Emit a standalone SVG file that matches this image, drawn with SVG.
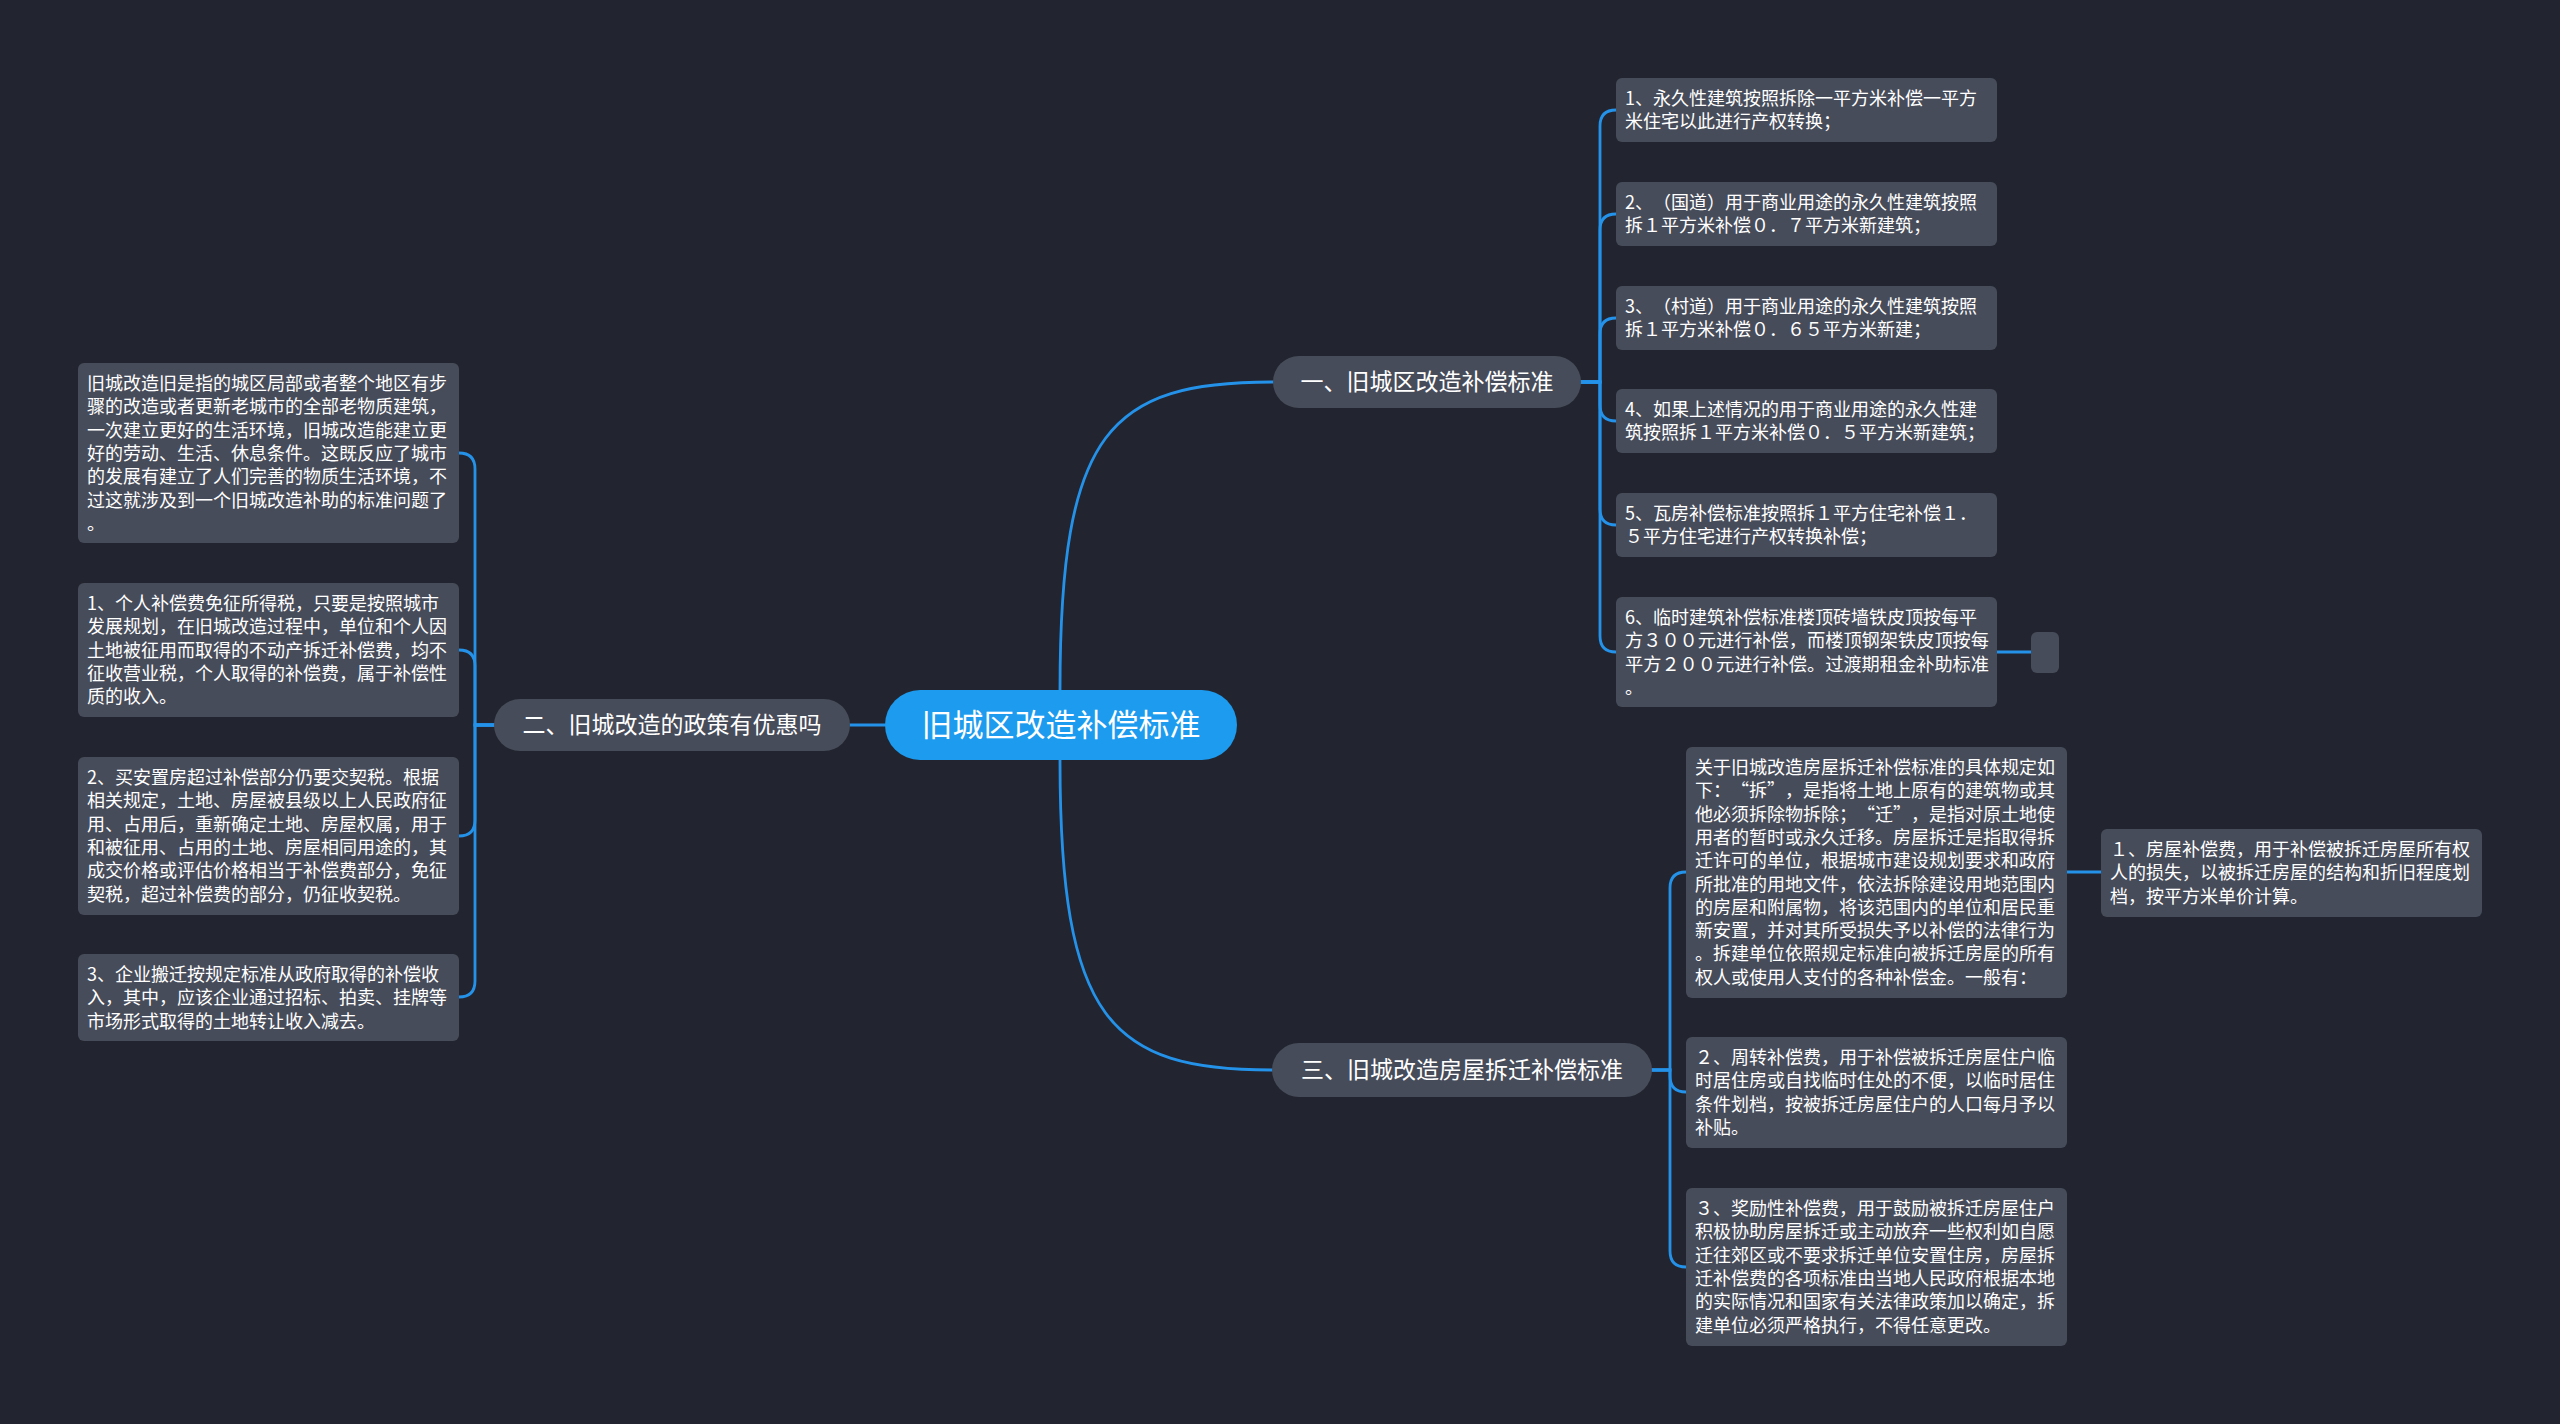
<svg xmlns="http://www.w3.org/2000/svg" width="2560" height="1424" viewBox="0 0 2560 1424">
<style>
.bg{fill:#22252f}
.box{fill:#474c5a}
.pill{fill:#474c5a}
.root{fill:#1c9bef}
.t{font-family:"Noto Sans CJK SC","Noto Sans",sans-serif;font-size:18px;fill:#ffffff;text-spacing-trim:space-all;font-feature-settings:"chws" 0,"halt" 0}
.tn{font-family:"Noto Sans CJK SC","Noto Sans",sans-serif;font-size:23px;fill:#ffffff;text-anchor:middle;text-spacing-trim:space-all}
.tr{font-family:"Noto Sans CJK SC","Noto Sans",sans-serif;font-size:31px;fill:#ffffff;text-anchor:middle}
.c{fill:none;stroke:#2592ea;stroke-width:2.8;stroke-linecap:round}
</style>
<rect class="bg" x="0" y="0" width="2560" height="1424"/>

<g id="connectors">
  <path class="c" d="M1060 690 C1060 430 1110 382 1273 382"/>
  <path class="c" d="M1060 760 C1060 1020 1110 1070 1272 1070"/>
  <path class="c" d="M885 725 H850"/>
  <path class="c" d="M1581 382 H1600 V126 Q1600 110 1616 110"/>
  <path class="c" d="M1581 382 H1600 V230 Q1600 214 1616 214"/>
  <path class="c" d="M1581 382 H1600 V334 Q1600 318 1616 318"/>
  <path class="c" d="M1581 382 H1600 V405 Q1600 421 1616 421"/>
  <path class="c" d="M1581 382 H1600 V509 Q1600 525 1616 525"/>
  <path class="c" d="M1581 382 H1600 V636 Q1600 652 1616 652"/>
  <path class="c" d="M1997 652 H2031"/>
  <path class="c" d="M494 725 H475 V469 Q475 453 459 453"/>
  <path class="c" d="M494 725 H475 V666 Q475 650 459 650"/>
  <path class="c" d="M494 725 H475 V820 Q475 836 459 836"/>
  <path class="c" d="M494 725 H475 V981 Q475 997 459 997"/>
  <path class="c" d="M1652 1070 H1670 V888 Q1670 872 1686 872"/>
  <path class="c" d="M1652 1070 H1670 V1076 Q1670 1092 1686 1092"/>
  <path class="c" d="M1652 1070 H1670 V1251 Q1670 1267 1686 1267"/>
  <path class="c" d="M2067 872 H2101"/>
</g>

<g id="root">
  <rect class="root" x="885" y="690" width="352" height="70" rx="35"/>
  <text class="tr" x="1061" y="736">旧城区改造补偿标准</text>
</g>

<g id="branch1">
  <rect class="pill" x="1273" y="356" width="308" height="52" rx="26"/>
  <text class="tn" x="1427" y="390">一、旧城区改造补偿标准</text>
</g>
<g id="branch2">
  <rect class="pill" x="494" y="699" width="356" height="52" rx="26"/>
  <text class="tn" x="672" y="733">二、旧城改造的政策有优惠吗</text>
</g>
<g id="branch3">
  <rect class="pill" x="1272" y="1043" width="380" height="54" rx="27"/>
  <text class="tn" x="1462" y="1078">三、旧城改造房屋拆迁补偿标准</text>
</g>

<g id="b1-1">
  <rect class="box" x="1616" y="78" width="381" height="64" rx="6"/>
  <text class="t" x="1625" y="105"><tspan x="1625">1、永久性建筑按照拆除一平方米补偿一平方</tspan><tspan x="1625" dy="23.3">米住宅以此进行产权转换；</tspan></text>
</g>
<g id="b1-2">
  <rect class="box" x="1616" y="182" width="381" height="64" rx="6"/>
  <text class="t" x="1625" y="209"><tspan x="1625">2、（国道）用于商业用途的永久性建筑按照</tspan><tspan x="1625" dy="23.3">拆１平方米补偿０．７平方米新建筑；</tspan></text>
</g>
<g id="b1-3">
  <rect class="box" x="1616" y="286" width="381" height="64" rx="6"/>
  <text class="t" x="1625" y="313"><tspan x="1625">3、（村道）用于商业用途的永久性建筑按照</tspan><tspan x="1625" dy="23.3">拆１平方米补偿０．６５平方米新建；</tspan></text>
</g>
<g id="b1-4">
  <rect class="box" x="1616" y="389" width="381" height="64" rx="6"/>
  <text class="t" x="1625" y="416"><tspan x="1625">4、如果上述情况的用于商业用途的永久性建</tspan><tspan x="1625" dy="23.3">筑按照拆１平方米补偿０．５平方米新建筑；</tspan></text>
</g>
<g id="b1-5">
  <rect class="box" x="1616" y="493" width="381" height="64" rx="6"/>
  <text class="t" x="1625" y="520"><tspan x="1625">5、瓦房补偿标准按照拆１平方住宅补偿１．</tspan><tspan x="1625" dy="23.3">５平方住宅进行产权转换补偿；</tspan></text>
</g>
<g id="b1-6">
  <rect class="box" x="1616" y="597" width="381" height="110" rx="6"/>
  <text class="t" x="1625" y="624"><tspan x="1625">6、临时建筑补偿标准楼顶砖墙铁皮顶按每平</tspan><tspan x="1625" dy="23.3" textLength="364" lengthAdjust="spacingAndGlyphs">方３００元进行补偿，而楼顶钢架铁皮顶按每</tspan><tspan x="1625" dy="23.3" textLength="364" lengthAdjust="spacingAndGlyphs">平方２００元进行补偿。过渡期租金补助标准</tspan><tspan x="1625" dy="23.3">。</tspan></text>
</g>
<g id="b1-6-1">
  <rect class="box" x="2031" y="632" width="28" height="41" rx="6"/>
</g>

<g id="b2-1">
  <rect class="box" x="78" y="363" width="381" height="180" rx="6"/>
  <text class="t" x="87" y="390"><tspan x="87">旧城改造旧是指的城区局部或者整个地区有步</tspan><tspan x="87" dy="23.3">骤的改造或者更新老城市的全部老物质建筑，</tspan><tspan x="87" dy="23.3">一次建立更好的生活环境，旧城改造能建立更</tspan><tspan x="87" dy="23.3">好的劳动、生活、休息条件。这既反应了城市</tspan><tspan x="87" dy="23.3">的发展有建立了人们完善的物质生活环境，不</tspan><tspan x="87" dy="23.3">过这就涉及到一个旧城改造补助的标准问题了</tspan><tspan x="87" dy="23.3">。</tspan></text>
</g>
<g id="b2-2">
  <rect class="box" x="78" y="583" width="381" height="134" rx="6"/>
  <text class="t" x="87" y="610"><tspan x="87">1、个人补偿费免征所得税，只要是按照城市</tspan><tspan x="87" dy="23.3">发展规划，在旧城改造过程中，单位和个人因</tspan><tspan x="87" dy="23.3">土地被征用而取得的不动产拆迁补偿费，均不</tspan><tspan x="87" dy="23.3">征收营业税，个人取得的补偿费，属于补偿性</tspan><tspan x="87" dy="23.3">质的收入。</tspan></text>
</g>
<g id="b2-3">
  <rect class="box" x="78" y="757" width="381" height="158" rx="6"/>
  <text class="t" x="87" y="784"><tspan x="87">2、买安置房超过补偿部分仍要交契税。根据</tspan><tspan x="87" dy="23.3">相关规定，土地、房屋被县级以上人民政府征</tspan><tspan x="87" dy="23.3">用、占用后，重新确定土地、房屋权属，用于</tspan><tspan x="87" dy="23.3">和被征用、占用的土地、房屋相同用途的，其</tspan><tspan x="87" dy="23.3">成交价格或评估价格相当于补偿费部分，免征</tspan><tspan x="87" dy="23.3">契税，超过补偿费的部分，仍征收契税。</tspan></text>
</g>
<g id="b2-4">
  <rect class="box" x="78" y="954" width="381" height="87" rx="6"/>
  <text class="t" x="87" y="981"><tspan x="87">3、企业搬迁按规定标准从政府取得的补偿收</tspan><tspan x="87" dy="23.3">入，其中，应该企业通过招标、拍卖、挂牌等</tspan><tspan x="87" dy="23.3">市场形式取得的土地转让收入减去。</tspan></text>
</g>

<g id="b3-1">
  <rect class="box" x="1686" y="747" width="381" height="251" rx="6"/>
  <text class="t" x="1695" y="774"><tspan x="1695">关于旧城改造房屋拆迁补偿标准的具体规定如</tspan><tspan x="1695" dy="23.3">下：“拆”，是指将土地上原有的建筑物或其</tspan><tspan x="1695" dy="23.3">他必须拆除物拆除；“迁”，是指对原土地使</tspan><tspan x="1695" dy="23.3">用者的暂时或永久迁移。房屋拆迁是指取得拆</tspan><tspan x="1695" dy="23.3">迁许可的单位，根据城市建设规划要求和政府</tspan><tspan x="1695" dy="23.3">所批准的用地文件，依法拆除建设用地范围内</tspan><tspan x="1695" dy="23.3">的房屋和附属物，将该范围内的单位和居民重</tspan><tspan x="1695" dy="23.3">新安置，并对其所受损失予以补偿的法律行为</tspan><tspan x="1695" dy="23.3">。拆建单位依照规定标准向被拆迁房屋的所有</tspan><tspan x="1695" dy="23.3">权人或使用人支付的各种补偿金。一般有：</tspan></text>
</g>
<g id="b3-1-1">
  <rect class="box" x="2101" y="829" width="381" height="88" rx="6"/>
  <text class="t" x="2110" y="856"><tspan x="2110">１、房屋补偿费，用于补偿被拆迁房屋所有权</tspan><tspan x="2110" dy="23.3">人的损失，以被拆迁房屋的结构和折旧程度划</tspan><tspan x="2110" dy="23.3">档，按平方米单价计算。</tspan></text>
</g>
<g id="b3-2">
  <rect class="box" x="1686" y="1037" width="381" height="111" rx="6"/>
  <text class="t" x="1695" y="1064"><tspan x="1695">２、周转补偿费，用于补偿被拆迁房屋住户临</tspan><tspan x="1695" dy="23.3">时居住房或自找临时住处的不便，以临时居住</tspan><tspan x="1695" dy="23.3">条件划档，按被拆迁房屋住户的人口每月予以</tspan><tspan x="1695" dy="23.3">补贴。</tspan></text>
</g>
<g id="b3-3">
  <rect class="box" x="1686" y="1188" width="381" height="158" rx="6"/>
  <text class="t" x="1695" y="1215"><tspan x="1695">３、奖励性补偿费，用于鼓励被拆迁房屋住户</tspan><tspan x="1695" dy="23.3">积极协助房屋拆迁或主动放弃一些权利如自愿</tspan><tspan x="1695" dy="23.3">迁往郊区或不要求拆迁单位安置住房，房屋拆</tspan><tspan x="1695" dy="23.3">迁补偿费的各项标准由当地人民政府根据本地</tspan><tspan x="1695" dy="23.3">的实际情况和国家有关法律政策加以确定，拆</tspan><tspan x="1695" dy="23.3">建单位必须严格执行，不得任意更改。</tspan></text>
</g>
</svg>
